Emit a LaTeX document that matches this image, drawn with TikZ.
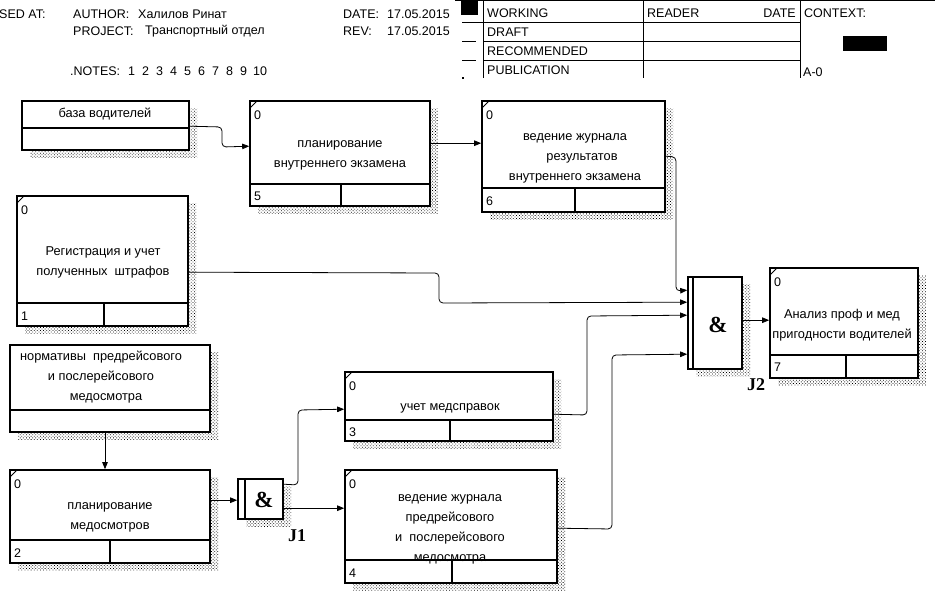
\documentclass[tikz,border=0pt]{standalone}
\usepackage{fontspec}
\setmainfont{Liberation Sans}
\newfontfamily\serifb{Liberation Serif}
\usetikzlibrary{arrows.meta,patterns.meta,calc,fit}
\newcommand\shdw[4]{\fill[shd] (#3+1,#2+7) rectangle (#3+8,#4+7); \fill[shd] (#1+8,#4+1) rectangle (#3+1,#4+7);}
\newcommand\cornertick[2]{\draw[line width=1pt] (#1,#2+7) -- (#1+7,#2);}
\begin{document}
\begin{tikzpicture}[x=1pt,y=-1pt,
  every node/.style={font=\fontsize{12.8}{20}\selectfont},
  abox/.style={draw, line width=1.6pt, inner sep=0pt},
  divl/.style={line width=1.4pt},
  shd/.style={pattern={Dots[radius=0.55pt,distance=2.2pt,angle=45]}, pattern color=black},
  conn/.style={line width=0.8pt, rounded corners=4pt, -{Triangle[length=7pt,width=5.5pt]}},
  hdr/.style={anchor=west, inner sep=0pt, font=\fontsize{12.5}{14}\selectfont},
  txt/.style={align=center, inner sep=0pt},
  num/.style={anchor=west, inner sep=0pt, font=\fontsize{12.5}{14}\selectfont},
  amp/.style={inner sep=0pt, font=\serifb\bfseries\fontsize{23}{24}\selectfont},
  jlab/.style={inner sep=0pt, font=\serifb\bfseries\fontsize{18}{20}\selectfont}]
\useasboundingbox (0,0) rectangle (935,595);

% ---------- header ----------
\node[hdr] (h1) at (-1,14) {SED AT:};
\node[hdr] (h2) at (73,14) {AUTHOR:};
\node[hdr] (h3) at (138,14) {Халилов Ринат};
\node[hdr] (h4) at (73,31) {PROJECT:};
\node[hdr] (h5) at (145,31) {Транспортный отдел};
\node[hdr] (h6) at (343,14) {DATE:};
\node[hdr] (h7) at (387,14) {17.05.2015};
\node[hdr] (h8) at (343,31) {REV:};
\node[hdr] (h9) at (387,31) {17.05.2015};
\node[hdr] (h10) at (70,71) {.NOTES:};
\foreach \i/\xx in {1/128,2/142,3/156,4/170,5/184,6/198,7/212,8/226,9/240,10/253}
  \node[hdr] (nt\i) at (\xx,71) {\i};

\draw[line width=1pt] (455,0.5) -- (935,0.5);
\fill (461,0) rectangle (478,15);
\draw[line width=1pt] (462,22) -- (800,22);
\draw[line width=1pt] (462,41) -- (476,41) (483,41) -- (800,41);
\draw[line width=1pt] (462,60) -- (476,60) (483,60) -- (800,60);
\fill (462,77) rectangle (463.5,78.5);
\draw[line width=1pt] (483,0) -- (483,78);
\draw[line width=1pt] (643,0) -- (643,78);
\draw[line width=1pt] (800,0) -- (800,78);
\node[hdr] (w1) at (487,13) {WORKING};
\node[hdr] (w2) at (487,32) {DRAFT};
\node[hdr] (w3) at (487,51) {RECOMMENDED};
\node[hdr] (w4) at (487,70) {PUBLICATION};
\node[hdr] (rd) at (647,13) {READER};
\node[hdr, anchor=east] (dt) at (796,13) {DATE};
\node[hdr] (ctx) at (804,13) {CONTEXT:};
\fill (843,36) rectangle (887,51);
\node[hdr] (a0) at (803,72) {A-0};

% ---------- shadows ----------
\shdw{22}{101}{189}{150}
\shdw{250}{101}{430}{206}
\shdw{482}{101}{665}{212}
\shdw{17}{196}{188}{326}
\shdw{10}{345}{210}{432}
\shdw{10}{470}{210}{563}
\shdw{238}{479}{283}{519}
\shdw{345}{372}{553}{441}
\shdw{345}{470}{557}{583}
\shdw{688}{277}{742}{369}
\shdw{770}{268}{918}{378}

% ---------- boxes ----------
\node[abox, fit={(22,101) (189,150)}] (db) {};
\node[abox, fit={(250,101) (430,206)}] (b5) {};
\node[abox, fit={(482,101) (665,212)}] (b6) {};
\node[abox, fit={(17,196) (188,326)}] (b1) {};
\node[abox, fit={(10,345) (210,432)}] (nm) {};
\node[abox, fit={(10,470) (210,563)}] (b2) {};
\node[abox, fit={(238,479) (283,519)}] (j1) {};
\node[abox, fit={(345,372) (553,441)}] (b3) {};
\node[abox, fit={(345,470) (557,583)}] (b4) {};
\node[abox, fit={(688,277) (742,369)}] (j2) {};
\node[abox, fit={(770,268) (918,378)}] (b7) {};

% dividers
\draw[divl] (22,128) -- (189,128);
\draw[divl] (10,410) -- (210,410);
\draw[divl] (250,184) -- (430,184) (341,184) -- (341,206);
\draw[divl] (482,188) -- (665,188) (575,188) -- (575,212);
\draw[divl] (17,303) -- (188,303) (104,303) -- (104,326);
\draw[divl] (10,540) -- (210,540) (110,540) -- (110,563);
\draw[divl] (345,420) -- (553,420) (450,420) -- (450,441);
\draw[divl] (345,560) -- (557,560) (452,560) -- (452,583);
\draw[divl] (770,355) -- (918,355) (846,355) -- (846,378);
\draw[line width=1.2pt] (245,479) -- (245,519);
\draw[line width=1.2pt] (693,277) -- (693,369);

% corner ticks
\cornertick{250}{101}
\cornertick{482}{101}
\cornertick{17}{196}
\cornertick{10}{470}
\cornertick{345}{372}
\cornertick{345}{470}
\cornertick{770}{268}

% numbers
\node[num] (z5) at (254,115) {0};   \node[num] (n5) at (254,196) {5};
\node[num] (z6) at (486,115) {0};   \node[num] (n6) at (486,201) {6};
\node[num] (z1) at (21,210) {0};    \node[num] (n1) at (21,316) {1};
\node[num] (z2) at (14,484) {0};    \node[num] (n2) at (14,553) {2};
\node[num] (z3) at (349,386) {0};   \node[num] (n3) at (349,432) {3};
\node[num] (z4) at (349,484) {0};   \node[num] (n4) at (349,573) {4};
\node[num] (z7) at (774,282) {0};   \node[num] (n7) at (774,367) {7};

% texts
\node[txt] (tdb) at (105,114) {база водителей};
\node[txt] (t5) at (340,155) {планирование\\внутреннего экзамена};
\node[txt] (t6) at (575,158) {ведение журнала\\\hspace*{14pt}результатов\\внутреннего экзамена};
\node[txt] (t1) at (103,262) {Регистрация и учет\\полученных\ \ штрафов};
\node[txt] (tnm) at (101,377) {нормативы\ \ предрейсового\\и послерейсового\\\hspace*{10pt}медосмотра};
\node[txt] (t2) at (110,517) {планирование\\медосмотров};
\node[txt] (t3) at (450,408) {учет медсправок};
\node[txt] (t4) at (450,529) {ведение журнала\\предрейсового\\и\ \ послерейсового\\медосмотра};
\node[txt] (t7) at (842,325) {Анализ проф и мед\\пригодности водителей};

\node[amp] (a1) at (264,500) {\&};
\node[amp] (a2) at (718,325) {\&};
\node[jlab] (l1) at (297,536) {J1};
\node[jlab] (l2) at (756,385) {J2};

% ---------- connectors ----------
\draw[conn] ($(db.north east)+(0,26)$) -- (222,127) -- (222,147) -- ($(b5.north west)+(0,46)$);
\draw[conn] ($(b5.north east)+(0,43)$) -- ($(b6.north west)+(0,43)$);
\draw[conn] ($(b6.north east)+(0,56)$) -- (676,157) -- (676,291) -- ($(j2.north west)+(0,14)$);
\draw[conn] ($(b1.north east)+(0,77)$) -- (439,273) -- (439,303) -- ($(j2.north west)+(0,26)$);
\draw[conn] ($(b3.north east)+(0,43)$) -- (587,415) -- (587,316) -- ($(j2.north west)+(0,39)$);
\draw[conn] ($(b4.north east)+(0,59)$) -- (612,529) -- (612,355) -- ($(j2.north west)+(0,78)$);
\draw[conn] ($(nm.south)+(-5,0)$) -- ($(b2.north)+(-5,0)$);
\draw[conn] ($(b2.north east)+(0,31)$) -- ($(j1.north west)+(0,22)$);
\draw[conn] ($(j1.north east)+(0,6)$) -- (298,485) -- (298,410) -- ($(b3.north west)+(0,38)$);
\draw[conn] ($(j1.north east)+(0,30)$) -- ($(b4.north west)+(0,39)$);
\draw[conn] ($(j2.north east)+(0,44)$) -- ($(b7.north west)+(0,53)$);
\end{tikzpicture}
\end{document}
